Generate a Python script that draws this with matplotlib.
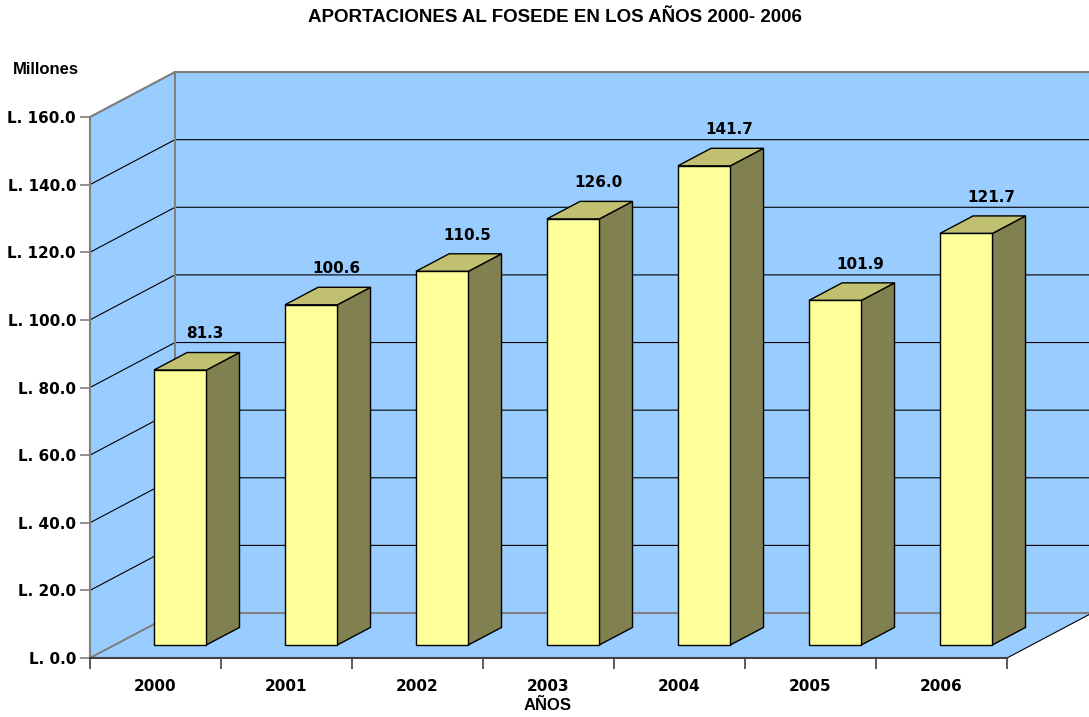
import matplotlib.pyplot as plt
from matplotlib.patches import Polygon

years = ["2000", "2001", "2002", "2003", "2004", "2005", "2006"]
aportes = [81.3, 100.6, 110.5, 126.0, 141.7, 101.9, 121.7]
yticks = [0, 20, 40, 60, 80, 100, 120, 140, 160]

BLUE = "#99CCFF"
FRONT = "#FFFF99"
TOP = "#C0C070"
SIDE = "#808050"
GRAY = "#808080"

# fake 3d: depth offset of the back wall in data units
DX = 0.649
DY = 13.3
f0, fd = 0.29, 0.39  # bar depth start and depth size (fraction of DX/DY)
bw = 0.40

fig = plt.figure(figsize=(10.89, 7.17), dpi=100)
ax = fig.add_axes([90/1089, 59/717, 917/1089, 541/717])
n = len(years)
ax.set_xlim(0, n)
ax.set_ylim(0, 160)
ax.patch.set_visible(False)

def poly(pts, fc, ec="none", lw=0, z=1):
    ax.add_patch(Polygon(pts, closed=True, facecolor=fc, edgecolor=ec,
                         linewidth=lw, clip_on=False, zorder=z))

# walls and floor
poly([(0, 0), (DX, DY), (DX, 160 + DY), (0, 160)], BLUE)
poly([(DX, DY), (n + DX, DY), (n + DX, 160 + DY), (DX, 160 + DY)], BLUE)
poly([(0, 0), (n, 0), (n + DX, DY), (DX, DY)], BLUE)

# gridlines
for v in yticks[1:]:
    ax.plot([0, DX, n + DX], [v, v + DY, v + DY], color="black", lw=0.8,
            clip_on=False, zorder=2)
ax.plot([0, DX, n + DX], [0, DY, DY], color=GRAY, lw=1.5, clip_on=False, zorder=2)
ax.plot([0, DX, n + DX], [160, 160 + DY, 160 + DY], color=GRAY, lw=1.5,
        clip_on=False, zorder=2)
ax.plot([DX, DX], [DY, 160 + DY], color=GRAY, lw=1.5, clip_on=False, zorder=2)
ax.plot([n, n + DX], [0, DY], color="black", lw=0.8, clip_on=False, zorder=2)

# bars
for i, v in enumerate(aportes):
    x0 = i + 0.5 - bw / 2 + f0 * DX
    y0 = f0 * DY
    x1 = x0 + bw
    ddx, ddy = fd * DX, fd * DY
    poly([(x1, y0), (x1 + ddx, y0 + ddy), (x1 + ddx, y0 + ddy + v), (x1, y0 + v)],
         SIDE, "black", 1.0, 3)
    poly([(x0, y0 + v), (x1, y0 + v), (x1 + ddx, y0 + v + ddy), (x0 + ddx, y0 + v + ddy)],
         TOP, "black", 1.0, 3)
    poly([(x0, y0), (x1, y0), (x1, y0 + v), (x0, y0 + v)], FRONT, "black", 1.0, 3)
    ax.text(x0 + bw / 2 + ddx / 2 + 0.065, y0 + v + ddy + 3.3, f"{v:.1f}",
            ha="center", va="bottom", fontsize=11, fontweight="bold", zorder=4)

# axes
ax.spines["top"].set_visible(False)
ax.spines["right"].set_visible(False)
ax.spines["left"].set_color(GRAY)
ax.spines["left"].set_linewidth(1.5)
ax.spines["bottom"].set_color("#404040")
ax.spines["bottom"].set_linewidth(1.5)
ax.spines["left"].set_zorder(5)
ax.spines["bottom"].set_zorder(5)

ax.set_yticks(yticks)
ax.set_yticklabels([f"L. {v:.1f}" for v in yticks], fontsize=11, fontweight="bold")
ax.tick_params(axis="y", length=7, width=1.2, color=GRAY, pad=3)

ax.set_xticks(range(n + 1))
ax.set_xticklabels([])
ax.set_xticks([i + 0.5 for i in range(n)], minor=True)
ax.set_xticklabels(years, minor=True, fontsize=11, fontweight="bold")
ax.tick_params(axis="x", which="major", length=8, width=1.2, color="#404040")
ax.tick_params(axis="x", which="minor", length=0, pad=15)

fig.text(555/1089, 1 - 17/717, "APORTACIONES AL FOSEDE EN LOS AÑOS 2000- 2006",
         ha="center", va="center", fontsize=13.5, fontweight="bold",
         family="Liberation Sans")
fig.text(46/1089, 1 - 69/717, "Millones", ha="center", va="center",
         fontsize=12, fontweight="bold", family="Liberation Sans")
fig.text(548/1089, 1 - 706/717, "AÑOS", ha="center", va="center",
         fontsize=12, fontweight="bold", family="Liberation Sans")

fig.savefig("out.png", dpi=100)
